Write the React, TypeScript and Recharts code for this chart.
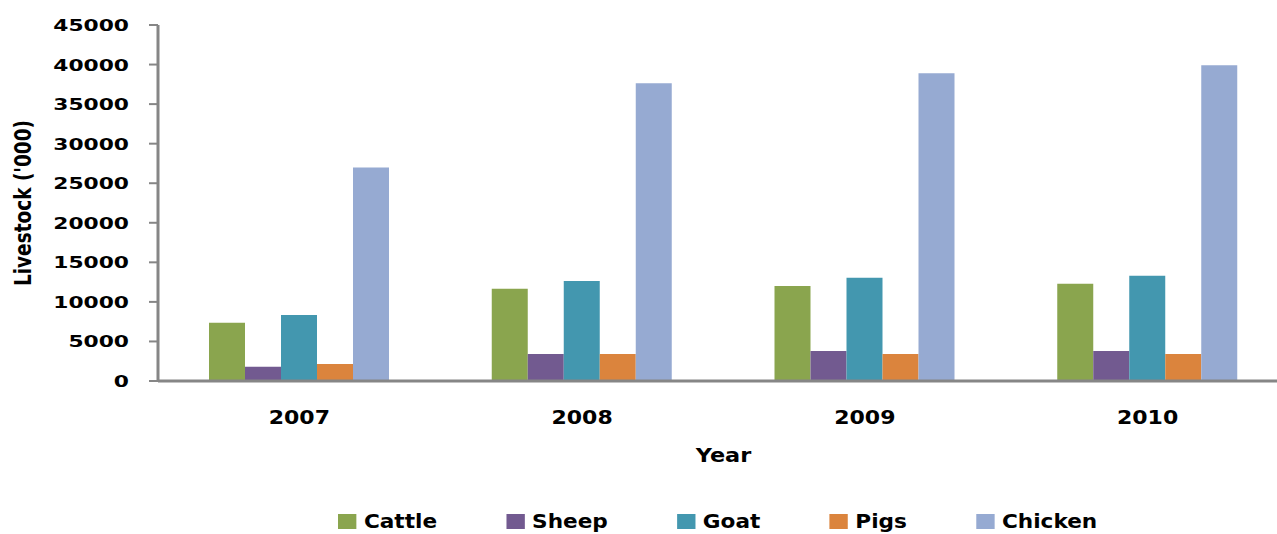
import { BarChart, Bar, XAxis, YAxis, Label } from "recharts";

const years = ["2007", "2008", "2009", "2010"];
const cattle = [7350, 11650, 12000, 12300];
const sheep = [1800, 3400, 3800, 3800];
const goat = [8350, 12650, 13050, 13300];
const pigs = [2150, 3400, 3400, 3400];
const chicken = [27000, 37650, 38900, 39900];
const yTicks = [0, 5000, 10000, 15000, 20000, 25000, 30000, 35000, 40000, 45000];

const series = [
  { name: "Cattle", values: cattle, color: "#8aa54e" },
  { name: "Sheep", values: sheep, color: "#725a90" },
  { name: "Goat", values: goat, color: "#4397af" },
  { name: "Pigs", values: pigs, color: "#db843d" },
  { name: "Chicken", values: chicken, color: "#96aad2" },
];

const data = years.map((year, i) => {
  const row: Record<string, string | number> = { year };
  series.forEach((s) => (row[s.name] = s.values[i]));
  return row;
});

const FONT = "'DejaVu Sans', Verdana, sans-serif";
const AXIS = "#868686";

// text squeezed wide, like the old spreadsheet export
function WideText({ x, y, sx, size, anchor = "middle", rotate = 0, children }: any) {
  return (
    <g transform={`translate(${x},${y}) scale(${sx},1) rotate(${rotate})`}>
      <text
        textAnchor={anchor}
        dy="0.36em"
        fontSize={size}
        fontWeight="bold"
        fontFamily={FONT}
        fill="#000"
      >
        {children}
      </text>
    </g>
  );
}

function YTick({ x, y, payload }: any) {
  return (
    <WideText x={x} y={y} sx={1.32} size={16.5} anchor="end">
      {payload.value}
    </WideText>
  );
}

function XTick({ x, y, payload }: any) {
  return (
    <WideText x={x} y={y + 34} sx={1.1} size={20}>
      {payload.value}
    </WideText>
  );
}

export default function App() {
  return (
    <div
      style={{
        position: "absolute",
        left: 0,
        top: 0,
        width: 1277,
        height: 534,
        overflow: "hidden",
        background: "#fff",
      }}
    >
      <BarChart
        width={1300}
        height={534}
        data={data}
        margin={{ top: 25, right: 11, bottom: 0, left: 0 }}
        barGap={0}
        barSize={36}
      >
        <XAxis
          dataKey="year"
          height={153}
          axisLine={{ stroke: AXIS, strokeWidth: 3 }}
          tickLine={false}
          tickSize={0}
          tick={<XTick />}
          interval={0}
        >
          <Label
            content={({ viewBox }: any) => (
              <WideText x={viewBox.x + viewBox.width / 2} y={viewBox.y + 74} sx={1.12} size={20}>
                Year
              </WideText>
            )}
          />
        </XAxis>
        <YAxis
          width={158}
          domain={[0, 45000]}
          ticks={yTicks}
          interval={0}
          axisLine={{ stroke: AXIS, strokeWidth: 3 }}
          tickLine={{ stroke: AXIS, strokeWidth: 2 }}
          tickSize={9}
          tickMargin={20}
          tick={<YTick />}
        >
          <Label
            content={({ viewBox }: any) => (
              <WideText x={23} y={viewBox.y + viewBox.height / 2} sx={1.2} size={18.5} rotate={-90}>
                Livestock ('000)
              </WideText>
            )}
          />
        </YAxis>
        {series.map((s) => (
          <Bar key={s.name} dataKey={s.name} fill={s.color} isAnimationActive={false} />
        ))}
      </BarChart>

      <div
        style={{
          position: "absolute",
          left: 338,
          top: 510,
          display: "flex",
          alignItems: "center",
          transform: "scaleX(1.08)",
          transformOrigin: "left center",
          fontFamily: FONT,
          fontWeight: "bold",
          fontSize: 20,
          lineHeight: "22px",
          whiteSpace: "nowrap",
        }}
      >
        {series.map((s) => (
          <div key={s.name} style={{ display: "flex", alignItems: "center", marginRight: 64 }}>
            <span style={{ width: 17, height: 15, background: s.color, marginRight: 7 }} />
            <span>{s.name}</span>
          </div>
        ))}
      </div>
    </div>
  );
}
